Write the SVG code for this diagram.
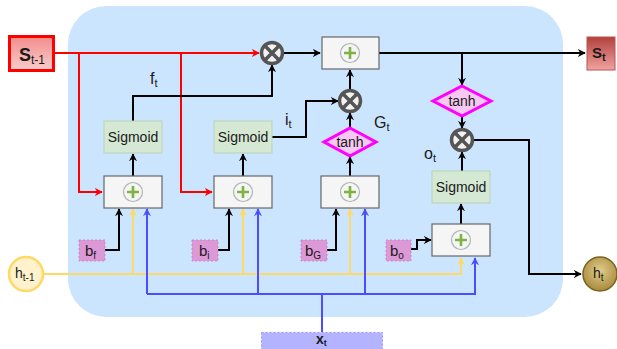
<svg xmlns="http://www.w3.org/2000/svg" width="617" height="349" viewBox="0 0 617 349">
<defs>
<linearGradient id="gRed" x1="0" y1="0" x2="0" y2="1"><stop offset="0" stop-color="#f28c8a"/><stop offset="1" stop-color="#f8cecc"/></linearGradient>
<linearGradient id="gDark" x1="0" y1="0" x2="0" y2="1"><stop offset="0" stop-color="#b3403c"/><stop offset="1" stop-color="#f0a3a0"/></linearGradient>
<radialGradient id="gGold" cx="0.5" cy="0.4" r="0.6"><stop offset="0" stop-color="#e0cc8a"/><stop offset="1" stop-color="#a88a3c"/></radialGradient>
<marker id="aK" viewBox="0 0 10 10" refX="9" refY="5" markerWidth="8" markerHeight="8" markerUnits="userSpaceOnUse" orient="auto"><path d="M0,0 L10,5 L0,10 L3,5 z" fill="#000"/></marker>
<marker id="aR" viewBox="0 0 10 10" refX="9" refY="5" markerWidth="8" markerHeight="8" markerUnits="userSpaceOnUse" orient="auto"><path d="M0,0 L10,5 L0,10 L3,5 z" fill="#ff0000"/></marker>
<marker id="aY" viewBox="0 0 10 10" refX="9" refY="5" markerWidth="8" markerHeight="8" markerUnits="userSpaceOnUse" orient="auto"><path d="M0,0 L10,5 L0,10 L3,5 z" fill="#ffd966"/></marker>
<marker id="aB" viewBox="0 0 10 10" refX="9" refY="5" markerWidth="8" markerHeight="8" markerUnits="userSpaceOnUse" orient="auto"><path d="M0,0 L10,5 L0,10 L3,5 z" fill="#4d4dff"/></marker>
<g id="plus"><circle r="9.5" fill="none" stroke="#b3b3b3" stroke-width="1.2"/><path d="M-6,0 H6 M0,-6 V6" stroke="#7cb342" stroke-width="2.6"/></g>
<g id="mul"><circle r="10.5" fill="#f2f2f2" stroke="#555" stroke-width="3.5"/><path d="M-7.4,-7.4 L7.4,7.4 M-7.4,7.4 L7.4,-7.4" stroke="#555" stroke-width="3.5"/></g>
</defs>
<style>
text{font-family:"Liberation Sans",Arial,sans-serif;fill:#1a1a1a}
.box{fill:#f5f5f5;stroke:#666;stroke-width:1.2}
.sig{fill:#d5e8d4;stroke:#b5d4b3;stroke-width:1}
.sigt{font-size:14px;text-anchor:middle}
.tanh{fill:#f7c8f2;stroke:#ff00ff;stroke-width:3}
.bias{fill:#dd98d6;stroke:#c77fc0;stroke-width:0.8;stroke-dasharray:2 2}
.bt{font-size:15px}
.k{fill:none;stroke:#000;stroke-width:2}
.r{fill:none;stroke:#ff0000;stroke-width:2}
.y{fill:none;stroke:#ffd966;stroke-width:2}
.b{fill:none;stroke:#4d4dff;stroke-width:2}
.lab{font-size:16px}
</style>
<rect x="68" y="6" width="495" height="311" rx="38" fill="#cce5ff"/>
<g id="connectors">
<path class="r" d="M54,53 H259" marker-end="url(#aR)"/>
<path class="r" d="M79,53 V192 H102" marker-end="url(#aR)"/>
<path class="r" d="M181,53 V192 H212" marker-end="url(#aR)"/>
<path class="k" d="M283,53 H320" marker-end="url(#aK)"/>
<path class="k" d="M379,53 H585" marker-end="url(#aK)"/>
<path class="k" d="M462,53 V85" marker-end="url(#aK)"/>
<path class="k" d="M462,117 V128" marker-end="url(#aK)"/>
<path class="k" d="M462,171 V152" marker-end="url(#aK)"/>
<path class="k" d="M461,224 V204" marker-end="url(#aK)"/>
<path class="k" d="M473,140 H529 V274 H581" marker-end="url(#aK)"/>
<path class="k" d="M133,176 V154" marker-end="url(#aK)"/>
<path class="k" d="M243,176 V154" marker-end="url(#aK)"/>
<path class="k" d="M133,121 V96 H272 V65" marker-end="url(#aK)"/>
<path class="k" d="M272,137 H306 V101 H338" marker-end="url(#aK)"/>
<path class="k" d="M350,176 V157" marker-end="url(#aK)"/>
<path class="k" d="M350,128 V113" marker-end="url(#aK)"/>
<path class="k" d="M350,90 V70" marker-end="url(#aK)"/>
<path class="k" d="M105,250 H119 V209" marker-end="url(#aK)"/>
<path class="k" d="M218,250 H229 V209" marker-end="url(#aK)"/>
<path class="k" d="M327,250 H336 V209" marker-end="url(#aK)"/>
<path class="k" d="M411,249 H417 V240 H431" marker-end="url(#aK)"/>
<path class="y" d="M43,274 H461 V258" marker-end="url(#aY)"/>
<path class="y" d="M133,274 V209" marker-end="url(#aY)"/>
<path class="y" d="M243,274 V209" marker-end="url(#aY)"/>
<path class="y" d="M350,274 V209" marker-end="url(#aY)"/>
<path class="b" d="M147,294 H475 V258" marker-end="url(#aB)"/>
<path class="b" d="M147,294 V209" marker-end="url(#aB)"/>
<path class="b" d="M258,294 V209" marker-end="url(#aB)"/>
<path class="b" d="M365,294 V209" marker-end="url(#aB)"/>
<path class="b" d="M322,332 V294"/>
</g>
<g id="s_prev"><rect x="9.5" y="36.5" width="44" height="34" fill="url(#gRed)" stroke="#ff0000" stroke-width="3"/><text x="19" y="61" font-size="18" font-weight="bold">S<tspan font-size="12" font-weight="normal" dy="3">t-1</tspan></text></g>
<g id="s_t"><rect x="587" y="37" width="28" height="33" fill="url(#gDark)" stroke="#b85450" stroke-width="1"/><text x="592" y="58" font-size="15" font-weight="bold">S<tspan font-size="11" dy="3">t</tspan></text></g>
<g id="mul1"><use href="#mul" x="272" y="53"/></g>
<g id="mul2"><use href="#mul" x="350" y="101"/></g>
<g id="mul3"><use href="#mul" x="462" y="140"/></g>
<g id="plus_top"><rect class="box" x="322" y="37" width="57" height="32"/><use href="#plus" x="350" y="53"/></g>
<g id="plus_f"><rect class="box" x="104" y="176" width="58" height="32"/><use href="#plus" x="133" y="192"/></g>
<g id="plus_i"><rect class="box" x="214" y="176" width="58" height="32"/><use href="#plus" x="243" y="192"/></g>
<g id="plus_g"><rect class="box" x="321" y="176" width="58" height="32"/><use href="#plus" x="350" y="192"/></g>
<g id="plus_o"><rect class="box" x="432" y="224" width="58" height="32"/><use href="#plus" x="461" y="240"/></g>
<g id="sig_f"><rect class="sig" x="104" y="121" width="58" height="32"/><text class="sigt" x="133" y="142">Sigmoid</text></g>
<g id="sig_i"><rect class="sig" x="214" y="121" width="58" height="32"/><text class="sigt" x="243" y="142">Sigmoid</text></g>
<g id="sig_o"><rect class="sig" x="432" y="171" width="58" height="32"/><text class="sigt" x="461" y="192">Sigmoid</text></g>
<g id="tanh_g"><path class="tanh" d="M350,128 L376,142 L350,156 L324,142 Z"/><text class="sigt" x="350" y="147">tanh</text></g>
<g id="tanh_s"><path class="tanh" d="M462,86 L491,101 L462,116 L433,101 Z"/><text class="sigt" x="462" y="106">tanh</text></g>
<g id="b_f"><rect class="bias" x="79" y="240" width="26" height="21"/><text class="bt" x="85" y="256">b<tspan font-size="10" dy="3">f</tspan></text></g>
<g id="b_i"><rect class="bias" x="192" y="240" width="26" height="21"/><text class="bt" x="199" y="256">b<tspan font-size="10" dy="3">i</tspan></text></g>
<g id="b_g"><rect class="bias" x="301" y="240" width="26" height="21"/><text class="bt" x="305" y="256">b<tspan font-size="10" dy="3">G</tspan></text></g>
<g id="b_o"><rect class="bias" x="386" y="240" width="25" height="21"/><text class="bt" x="390" y="256">b<tspan font-size="10" dy="3">o</tspan></text></g>
<g id="h_prev"><circle cx="26" cy="274" r="17" fill="#fff2cc" stroke="#ffd966" stroke-width="2.5"/><text x="15" y="278" font-size="14">h<tspan font-size="10" dy="3">t-1</tspan></text></g>
<g id="h_t"><circle cx="600" cy="274" r="17" fill="url(#gGold)" stroke="#7a6320" stroke-width="1.5"/><text x="593" y="278" font-size="14">h<tspan font-size="10" dy="3">t</tspan></text></g>
<g id="x_t"><rect x="261.5" y="332.5" width="121" height="20" fill="#b3b3ff" stroke="#9999ff" stroke-width="1" stroke-dasharray="2 2"/><text x="316" y="344" font-size="14" font-weight="bold">x<tspan font-size="9" dy="2">t</tspan></text></g>
<g id="labels">
<text class="lab" x="150" y="84">f<tspan font-size="11" dy="3">t</tspan></text>
<text class="lab" x="285" y="125">i<tspan font-size="11" dy="3">t</tspan></text>
<text class="lab" x="374" y="128">G<tspan font-size="11" dy="3">t</tspan></text>
<text class="lab" x="424" y="159">o<tspan font-size="11" dy="3">t</tspan></text>
</g>
</svg>
